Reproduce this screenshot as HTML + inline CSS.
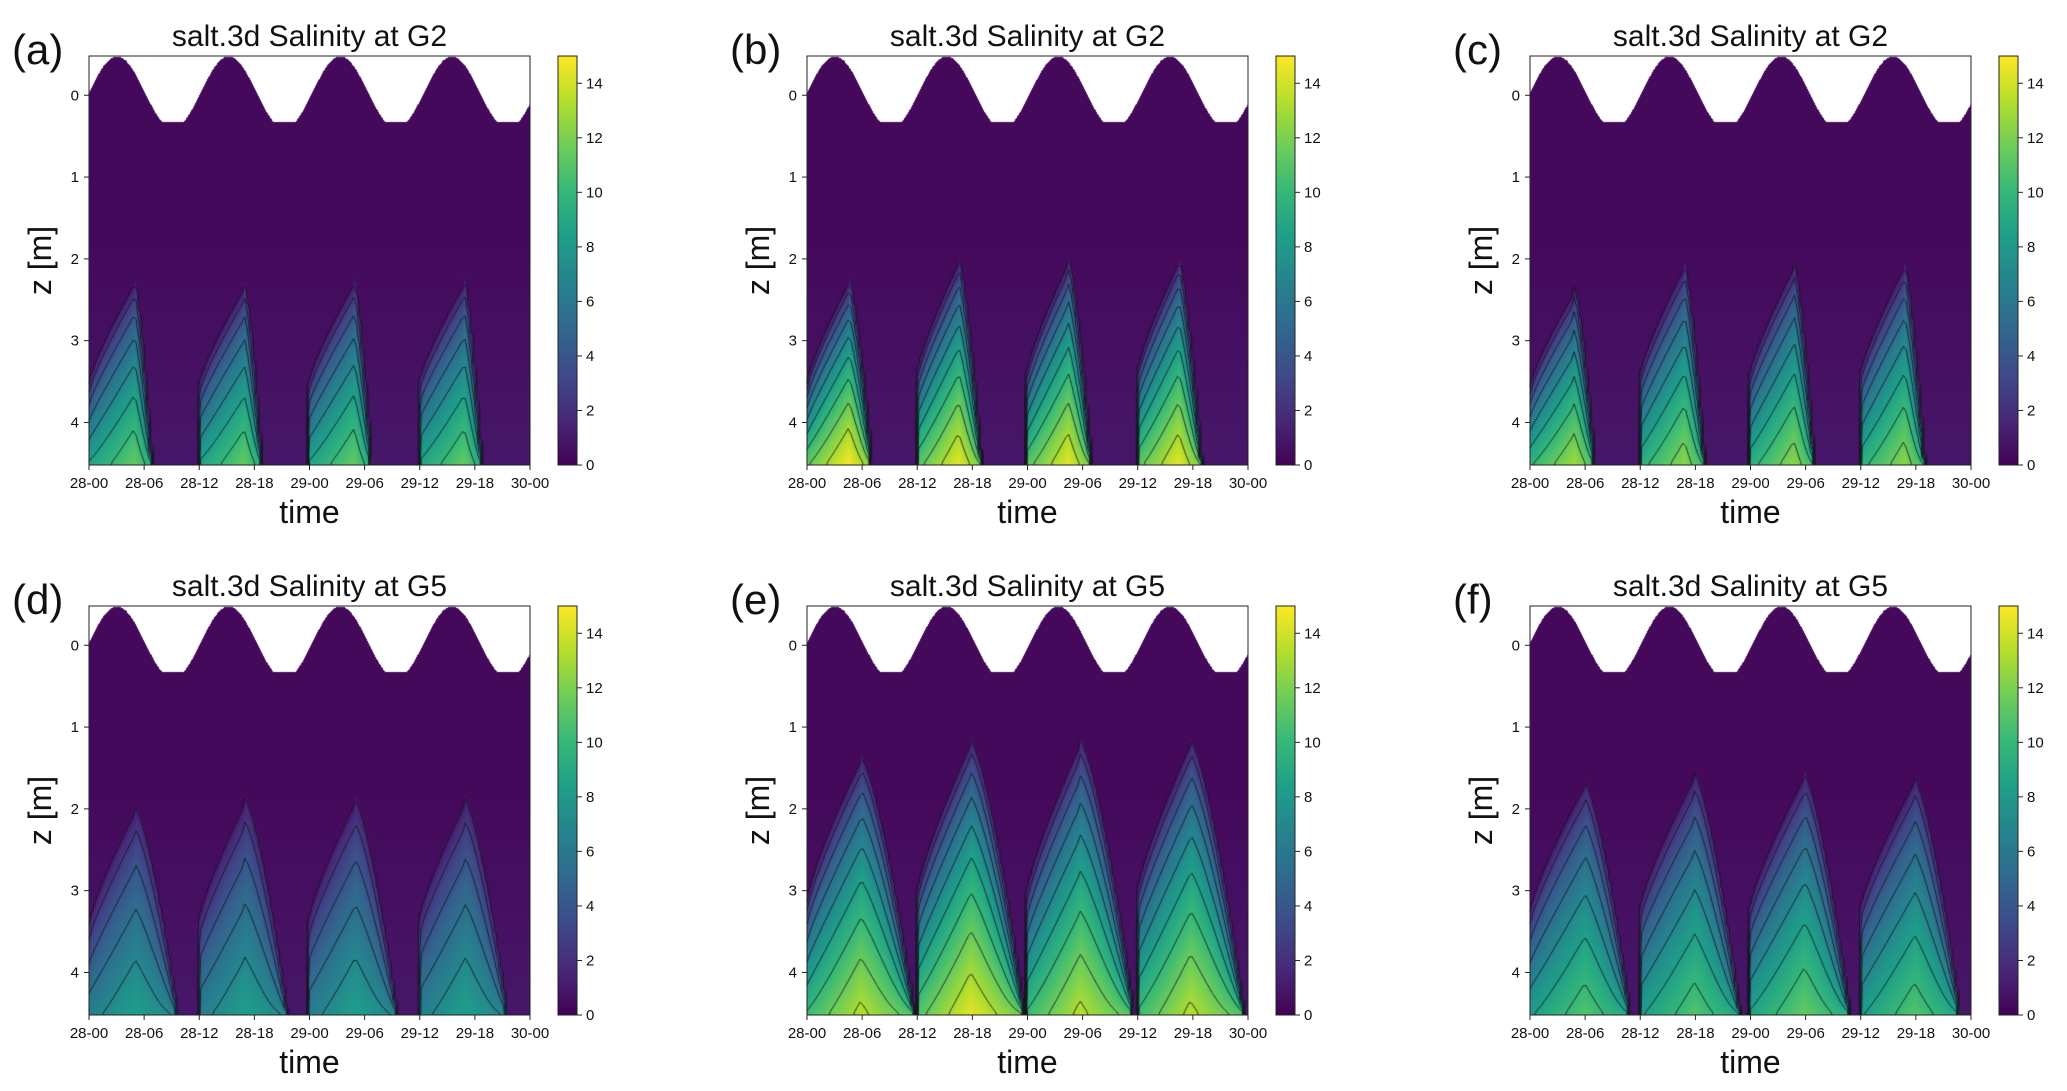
<!DOCTYPE html>
<html><head><meta charset="utf-8">
<style>
html,body{margin:0;padding:0;background:#fff;}
#wrap{position:relative;width:2067px;height:1091px;overflow:hidden;}
canvas,svg{position:absolute;left:0;top:0;}
text{font-family:"Liberation Sans","DejaVu Sans",sans-serif;fill:#111;}
</style></head>
<body>
<div id="wrap">
<canvas id="cv" width="2067" height="1091"></canvas>
<svg id="sv" width="2067" height="1091" xmlns="http://www.w3.org/2000/svg"></svg>
</div>
<script>
// ---- data ----
const timeTicks = ['28-00','28-06','28-12','28-18','29-00','29-06','29-12','29-18','30-00'];
const depthTicks = [0,1,2,3,4];
const cbTicks = [0,2,4,6,8,10,12,14];
const panelLetters = ['(a)','(b)','(c)','(d)','(e)','(f)'];
const panelTitles = ['salt.3d Salinity at G2','salt.3d Salinity at G2','salt.3d Salinity at G2','salt.3d Salinity at G5','salt.3d Salinity at G5','salt.3d Salinity at G5'];
const cycleStarts = [0, 11.96, 23.9, 35.9];
const smaxA = [11,11,11,11];        const topA = [2.3,2.35,2.3,2.3];
const smaxB = [14.5,14,14,14];      const topB = [2.3,2.05,2.05,2.05];
const smaxC = [12.5,12,12,12];      const topC = [2.4,2.1,2.1,2.1];
const smaxD = [8,8,8,8];            const topD = [2.0,1.9,1.9,1.9];
const smaxE = [13,14,13,13];        const topE = [1.4,1.2,1.2,1.2];
const smaxF = [10.5,10.5,11,10.5];  const topF = [1.7,1.6,1.6,1.65];
const peakHours = [4.9,4.5,4.8,5.0,5.8,5.9];
const endHours = [6.8,7.0,7.0,9.5,11.6,10.8];
const tideHigh = -0.48, tideLow = 0.32, tidePeriod = 12.15, tidePeakHour = 3.0;
const contourLevels = [1,2.5,4,5.5,7,8.5,10,11.5,13];

const smaxAll=[smaxA,smaxB,smaxC,smaxD,smaxE,smaxF];
const topAll=[topA,topB,topC,topD,topE,topF];

// ---- geometry ----
const colL=[89,807,1530], pw=441;
const rowT=[56,606], ph=409;
const zMin=-0.48, zMax=4.52, tMax=48;
const viridis=[[68,1,84],[72,40,120],[62,74,137],[49,104,142],[38,130,142],[31,158,137],[53,183,121],[109,205,89],[180,222,44],[253,231,37]];
function cmap(v){let f=Math.max(0,Math.min(1,v/15))*(viridis.length-1);let i=Math.min(viridis.length-2,Math.floor(f));let r=f-i;return viridis[i].map((c,k)=>Math.round(c+(viridis[i+1][k]-c)*r));}
function surf(t){const amp=(tideLow-tideHigh)/2*1.1;const mid=tideHigh+amp;let z=mid-amp*Math.cos(2*Math.PI*(t-tidePeakHour)/tidePeriod);return Math.min(tideLow,Math.max(tideHigh,z));}
function field(p,t,z){
  let s=0.35+0.6*Math.max(0,(z-1.8)/2.7);
  for(let k=0;k<cycleStarts.length;k++){
    let tau=t-cycleStarts[k]; const pk=peakHours[p], en=endHours[p];
    if(tau<0||tau>en) continue;
    const H=4.5-topAll[p][k];
    let h, amp;
    if(tau<pk){const r=tau/pk;h=H*(0.45+0.55*Math.pow(r,0.8));amp=0.75+0.25*r;}
    else{let r=(tau-pk)/(en-pk);h=H*(1-Math.pow(r,1.4))+0.08;amp=1-0.2*r;}
    const zt=4.5-h;
    if(z>zt){let q=(z-zt)/h;s=Math.max(s,smaxAll[p][k]*amp*Math.pow(Math.min(1,q),0.65)+0.4);}
  }
  return s;
}
const cv=document.getElementById('cv'),ctx=cv.getContext('2d');
const sv=document.getElementById('sv');const NS='http://www.w3.org/2000/svg';
function mk(tag,attrs,txt){const e=document.createElementNS(NS,tag);for(const k in attrs)e.setAttribute(k,attrs[k]);if(txt!==undefined)e.textContent=txt;sv.appendChild(e);return e;}

for(let p=0;p<6;p++){
  const L=colL[p%3],T=rowT[Math.floor(p/3)];
  const xs=t=>L+t/tMax*pw, ys=z=>T+(z-zMin)/(zMax-zMin)*ph;
  const img=ctx.createImageData(pw,ph);
  for(let i=0;i<pw;i++){const t=i/pw*tMax;const sz=surf(t);
    for(let j=0;j<ph;j++){const z=zMin+j/ph*(zMax-zMin);const o=(j*pw+i)*4;
      if(z<sz){img.data[o]=255;img.data[o+1]=255;img.data[o+2]=255;}
      else{const c=cmap(field(p,t,z));img.data[o]=c[0];img.data[o+1]=c[1];img.data[o+2]=c[2];}
      img.data[o+3]=255;}}
  ctx.putImageData(img,L,T);
  const nx=150,ny=120,G=[];
  for(let j=0;j<=ny;j++){G.push([]);for(let i=0;i<=nx;i++){const t=i/nx*tMax,z=zMin+j/ny*(zMax-zMin);G[j].push(z<surf(t)?0:field(p,t,z));}}
  ctx.strokeStyle='rgba(20,20,30,0.85)';ctx.lineWidth=1;ctx.beginPath();
  for(const lv of contourLevels){
    for(let j=0;j<ny;j++)for(let i=0;i<nx;i++){
      const a=G[j][i],b=G[j][i+1],c=G[j+1][i+1],d=G[j+1][i];
      const pts=[];
      const e=(v1,v2,x1,y1,x2,y2)=>{if((v1<lv)!==(v2<lv)){const r=(lv-v1)/(v2-v1);pts.push([x1+(x2-x1)*r,y1+(y2-y1)*r]);}};
      e(a,b,i,j,i+1,j);e(b,c,i+1,j,i+1,j+1);e(c,d,i+1,j+1,i,j+1);e(d,a,i,j+1,i,j);
      for(let q=0;q+1<pts.length;q+=2){
        ctx.moveTo(L+pts[q][0]/nx*pw,T+pts[q][1]/ny*ph);ctx.lineTo(L+pts[q+1][0]/nx*pw,T+pts[q+1][1]/ny*ph);}
    }}
  ctx.stroke();
  const cbx=L+469,cbw=19;
  const gid='g'+p;const defs=mk('defs',{});const lg=document.createElementNS(NS,'linearGradient');
  lg.setAttribute('id',gid);lg.setAttribute('x1','0');lg.setAttribute('y1','1');lg.setAttribute('x2','0');lg.setAttribute('y2','0');
  viridis.forEach((c,k)=>{const s=document.createElementNS(NS,'stop');s.setAttribute('offset',k/(viridis.length-1));s.setAttribute('stop-color','rgb('+c.join(',')+')');lg.appendChild(s);});
  defs.appendChild(lg);
  const cb=mk('rect',{x:cbx,y:T,width:cbw,height:ph,fill:'url(#'+gid+')',stroke:'#222','stroke-width':1});
  
  cbTicks.forEach(v=>{const y=T+ph-v/15*ph;mk('line',{x1:cbx+cbw,x2:cbx+cbw+5,y1:y,y2:y,stroke:'#222'});
    const tx=mk('text',{x:cbx+cbw+9,y:y+5,'font-size':15},String(v));});
  const fr=mk('rect',{x:L,y:T,width:pw,height:ph,fill:'none',stroke:'#222','stroke-width':1});
  
  timeTicks.forEach((lab,k)=>{const x=xs(k*6);mk('line',{x1:x,x2:x,y1:T+ph,y2:T+ph+5,stroke:'#222'});
    const tx=mk('text',{x:x,y:T+ph+23,'font-size':15,'text-anchor':'middle'},lab);});
  depthTicks.forEach(v=>{const y=ys(v);mk('line',{x1:L-5,x2:L,y1:y,y2:y,stroke:'#222'});
    const tx=mk('text',{x:L-10,y:y+5,'font-size':15,'text-anchor':'end'},String(v));});
  const ti=mk('text',{x:L+pw/2,y:T-10,'font-size':30,'text-anchor':'middle'},panelTitles[p]);
  const le=mk('text',{x:L-77,y:T+8,'font-size':42},panelLetters[p]);
  const xl=mk('text',{x:L+pw/2,y:T+ph+58,'font-size':32,'text-anchor':'middle'},'time');
  const yl=mk('text',{x:0,y:0,'font-size':32,'text-anchor':'middle',transform:'translate('+(L-38)+','+(T+ph/2)+') rotate(-90)'},'z [m]');
}
</script>
</body></html>
